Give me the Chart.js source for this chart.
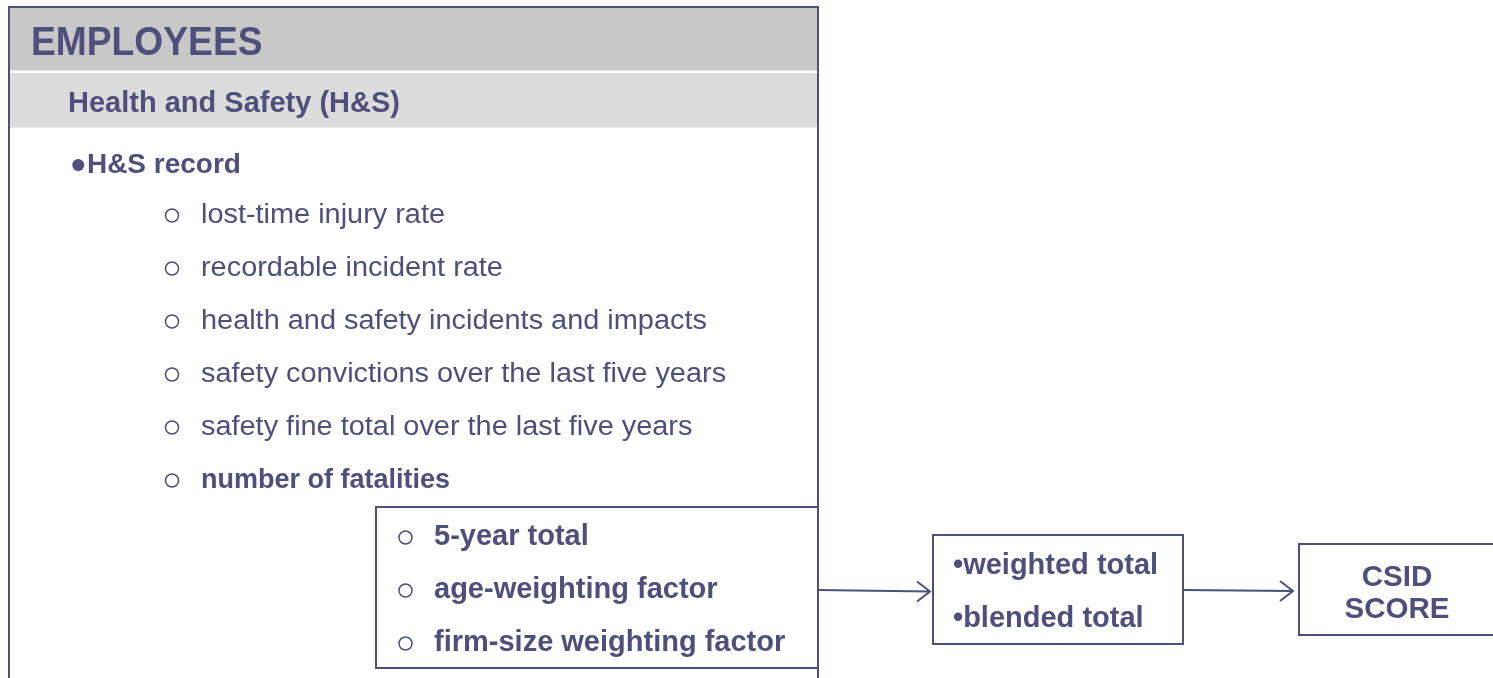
<!DOCTYPE html>
<html>
<head>
<meta charset="utf-8">
<title>Employees - Health and Safety</title>
<script src="https://cdn.jsdelivr.net/npm/chart.js@4.4.1/dist/chart.umd.min.js"></script>
<style>
    body { margin: 0; background: #ffffff; }
    #wrap { width: 1493px; height: 678px; position: relative; }
</style>
</head>
<body>
<div id="wrap"><canvas id="diagram"></canvas></div>
<script>
// diagram text content
const sectionTitle = 'EMPLOYEES';
const topicTitle = 'Health and Safety (H&S)';
const recordTitle = 'H&S record';
const recordItems = [
    'lost-time injury rate',
    'recordable incident rate',
    'health and safety incidents and impacts',
    'safety convictions over the last five years',
    'safety fine total over the last five years',
    'number of fatalities'
];
const recordItemBold = [false, false, false, false, false, true];
const fatalityItems = ['5-year total', 'age-weighting factor', 'firm-size weighting factor'];
const totalItems = ['weighted total', 'blended total'];
const scoreLines = ['CSID', 'SCORE'];

const INK = '#4f4f7c';
const FONT = '"Liberation Sans", Arial, sans-serif';

// layout (diagram units == pixels of the 1493x678 page)
const W = 1493, H = 678;
const ROW_GAP = 53;
const recordRow0 = 223;   // baseline of first record item
const fatalRow0 = 545;    // baseline of first fatality item

function bulletPoints(items, x, y0, gap) {
    return items.map((t, i) => ({ x: x, y: y0 + i * gap - 7.5 }));
}

const diagramPlugin = {
    id: 'diagram',
    beforeDatasetsDraw(chart) {
        const { ctx, scales } = chart;
        const X = v => scales.x.getPixelForValue(v);
        const Y = v => scales.y.getPixelForValue(v);

        ctx.save();
        ctx.fillStyle = '#ffffff';
        ctx.fillRect(0, 0, chart.width, chart.height);

        // header bands
        ctx.fillStyle = '#c8c8c8';
        ctx.fillRect(X(10), Y(8), X(817) - X(10), Y(70.5) - Y(8));
        ctx.fillStyle = '#dcdcdc';
        ctx.fillRect(X(10), Y(73), X(817) - X(10), Y(127.5) - Y(73));

        ctx.strokeStyle = INK;
        ctx.lineWidth = 2;

        // outer panel (open at the bottom)
        ctx.beginPath();
        ctx.moveTo(X(9), Y(H + 2));
        ctx.lineTo(X(9), Y(7));
        ctx.lineTo(X(818), Y(7));
        ctx.lineTo(X(818), Y(H + 2));
        ctx.stroke();

        // fatalities box
        ctx.fillStyle = '#ffffff';
        ctx.fillRect(X(376), Y(507), X(818) - X(376), Y(668) - Y(507));
        ctx.strokeRect(X(376), Y(507), X(818) - X(376), Y(668) - Y(507));

        // totals box
        ctx.strokeRect(X(933), Y(535), X(1183) - X(933), Y(644) - Y(535));
        // score box
        ctx.strokeRect(X(1299), Y(544), X(1495) - X(1299), Y(635) - Y(544));

        // arrows
        const arrow = (x1, y1, x2, y2) => {
            ctx.beginPath();
            ctx.moveTo(X(x1), Y(y1));
            ctx.lineTo(X(x2), Y(y2));
            ctx.moveTo(X(x2 - 13), Y(y2 - 10));
            ctx.lineTo(X(x2), Y(y2));
            ctx.lineTo(X(x2 - 13), Y(y2 + 10));
            ctx.stroke();
        };
        arrow(818, 590, 930, 591.5);
        arrow(1184, 590, 1293, 591);
        ctx.restore();
    },
    afterDatasetsDraw(chart) {
        const { ctx, scales } = chart;
        const X = v => scales.x.getPixelForValue(v);
        const Y = v => scales.y.getPixelForValue(v);

        const text = (str, x, y, size, bold, sx, align) => {
            ctx.save();
            ctx.font = (bold ? 'bold ' : '') + size + 'px ' + FONT;
            ctx.fillStyle = INK;
            ctx.textBaseline = 'alphabetic';
            ctx.textAlign = align || 'left';
            ctx.translate(X(x), Y(y));
            ctx.scale(sx || 1, 1);
            ctx.fillText(str, 0, 0);
            ctx.restore();
        };

        text(sectionTitle, 31, 55, 40, true, 0.93);
        text(topicTitle, 68, 112, 29, true);
        text('\u25CF' + recordTitle, 70, 173, 28, true);

        recordItems.forEach((t, i) => {
            text(t, 201, recordRow0 + i * ROW_GAP, 27, recordItemBold[i], recordItemBold[i] ? 1 : 1.07);
        });
        fatalityItems.forEach((t, i) => {
            text(t, 434, fatalRow0 + i * ROW_GAP, 29, true);
        });
        totalItems.forEach((t, i) => {
            text('\u2022' + t, 953, 574 + i * 53, 29, true);
        });
        scoreLines.forEach((t, i) => {
            text(t, 1397, 586 + i * 32, 29.5, true, 1, 'center');
        });
    }
};

new Chart(document.getElementById('diagram'), {
    type: 'scatter',
    data: {
        datasets: [
            {
                label: 'H&S record items',
                data: bulletPoints(recordItems, 172, recordRow0, ROW_GAP),
                pointStyle: 'circle',
                pointRadius: 6.5,
                borderWidth: 1.5,
                borderColor: INK,
                backgroundColor: '#ffffff'
            },
            {
                label: 'fatality items',
                data: bulletPoints(fatalityItems, 405.5, fatalRow0, ROW_GAP),
                pointStyle: 'circle',
                pointRadius: 6.5,
                borderWidth: 1.5,
                borderColor: INK,
                backgroundColor: '#ffffff'
            }
        ]
    },
    options: {
        responsive: true,
        maintainAspectRatio: false,
        animation: false,
        layout: { padding: 0, autoPadding: false },
        plugins: {
            legend: { display: false },
            tooltip: { enabled: false }
        },
        scales: {
            x: { type: 'linear', min: 0, max: W, display: false },
            y: { type: 'linear', min: 0, max: H, reverse: true, display: false }
        }
    },
    plugins: [diagramPlugin]
});
</script>
</body>
</html>
